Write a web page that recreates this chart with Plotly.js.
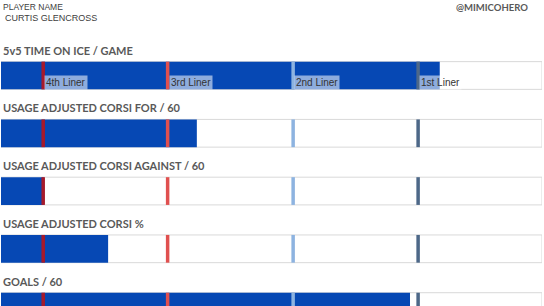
<!DOCTYPE html>
<html><head><meta charset="utf-8">
<script src="https://cdn.plot.ly/plotly-3.0.1.min.js"></script>
<style>html,body{margin:0;padding:0;background:#fff}#c{width:544px;height:306px}</style>
</head><body><div id="c"></div>
<script>
var metrics = ["5v5 TIME ON ICE / GAME","USAGE ADJUSTED CORSI FOR / 60","USAGE ADJUSTED CORSI AGAINST / 60","USAGE ADJUSTED CORSI %","GOALS / 60"];
var values = [81.1, 36.2, 7.9, 19.8, 75.6];
var tierNames = ["4th Liner","3rd Liner","2nd Liner","1st Liner"];
var tierMarks = [7.8, 30.8, 54.0, 77.1];
var tierColors = ["#A51A2C","#E0504F","#8DB3E0","#4D6888"];
var playerLabel = "PLAYER NAME", playerName = "CURTIS GLENCROSS", handle = "@MIMICOHERO";

var idx = metrics.map(function(_, i){ return i; });
var half = 0.24;
var traces = [
  {type:'bar', orientation:'h', y:idx, x:metrics.map(function(){return 100;}), width:2*half,
   marker:{color:'#ffffff', line:{color:'#D9D9D9', width:1}}, hoverinfo:'skip'},
  {type:'bar', orientation:'h', y:idx, x:values, width:2*half,
   marker:{color:'#0648B4', line:{width:0}}, hoverinfo:'skip'}
];
var shapes = [];
idx.forEach(function(i){
  tierMarks.forEach(function(m, k){
    shapes.push({type:'line', xref:'x', yref:'y', x0:m, x1:m, y0:i-half, y1:i+half,
      line:{color:tierColors[k], width:3.5}});
  });
});
var annotations = [];
idx.forEach(function(i){
  annotations.push({xref:'paper', yref:'y', x:0, y:i-0.44, xanchor:'left', yanchor:'middle',
    text:metrics[i], showarrow:false, xshift:0,
    font:{family:'Lato', size:11, color:'#595959', weight:'bold'}});
});
tierNames.forEach(function(t, k){
  annotations.push({xref:'x', yref:'y', x:tierMarks[k], y:0.115, xanchor:'left', yanchor:'middle',
    text:t, showarrow:false, xshift:1, bgcolor:'rgba(255,255,255,0.55)', borderpad:1,
    font:{family:'Liberation Sans', size:10, color:'#333333'}});
});
annotations.push({xref:'paper', yref:'paper', x:0, y:1, xanchor:'left', yanchor:'top', yshift:0,
  text:playerLabel, showarrow:false, font:{family:'Liberation Sans', size:8.5, color:'#404040'}});
annotations.push({xref:'paper', yref:'paper', x:0, y:1, xanchor:'left', yanchor:'top', yshift:-11, xshift:2,
  text:playerName, showarrow:false, font:{family:'Liberation Sans', size:9, color:'#404040'}});
annotations.push({xref:'paper', yref:'paper', x:1, y:1, xanchor:'right', yanchor:'top', xshift:-12,
  text:handle, showarrow:false, font:{family:'Lato', size:9.5, color:'#595959', weight:'bold'}});

var layout = {
  width:544, height:306, margin:{l:1, r:2, t:0, b:0},
  paper_bgcolor:'#ffffff', plot_bgcolor:'#ffffff',
  barmode:'overlay', showlegend:false,
  xaxis:{range:[0,100], visible:false, fixedrange:true},
  yaxis:{range:[3.99,-1.307], visible:false, fixedrange:true},
  shapes:shapes, annotations:annotations
};
Plotly.newPlot('c', traces, layout, {displayModeBar:false, staticPlot:true});
</script></body></html>
